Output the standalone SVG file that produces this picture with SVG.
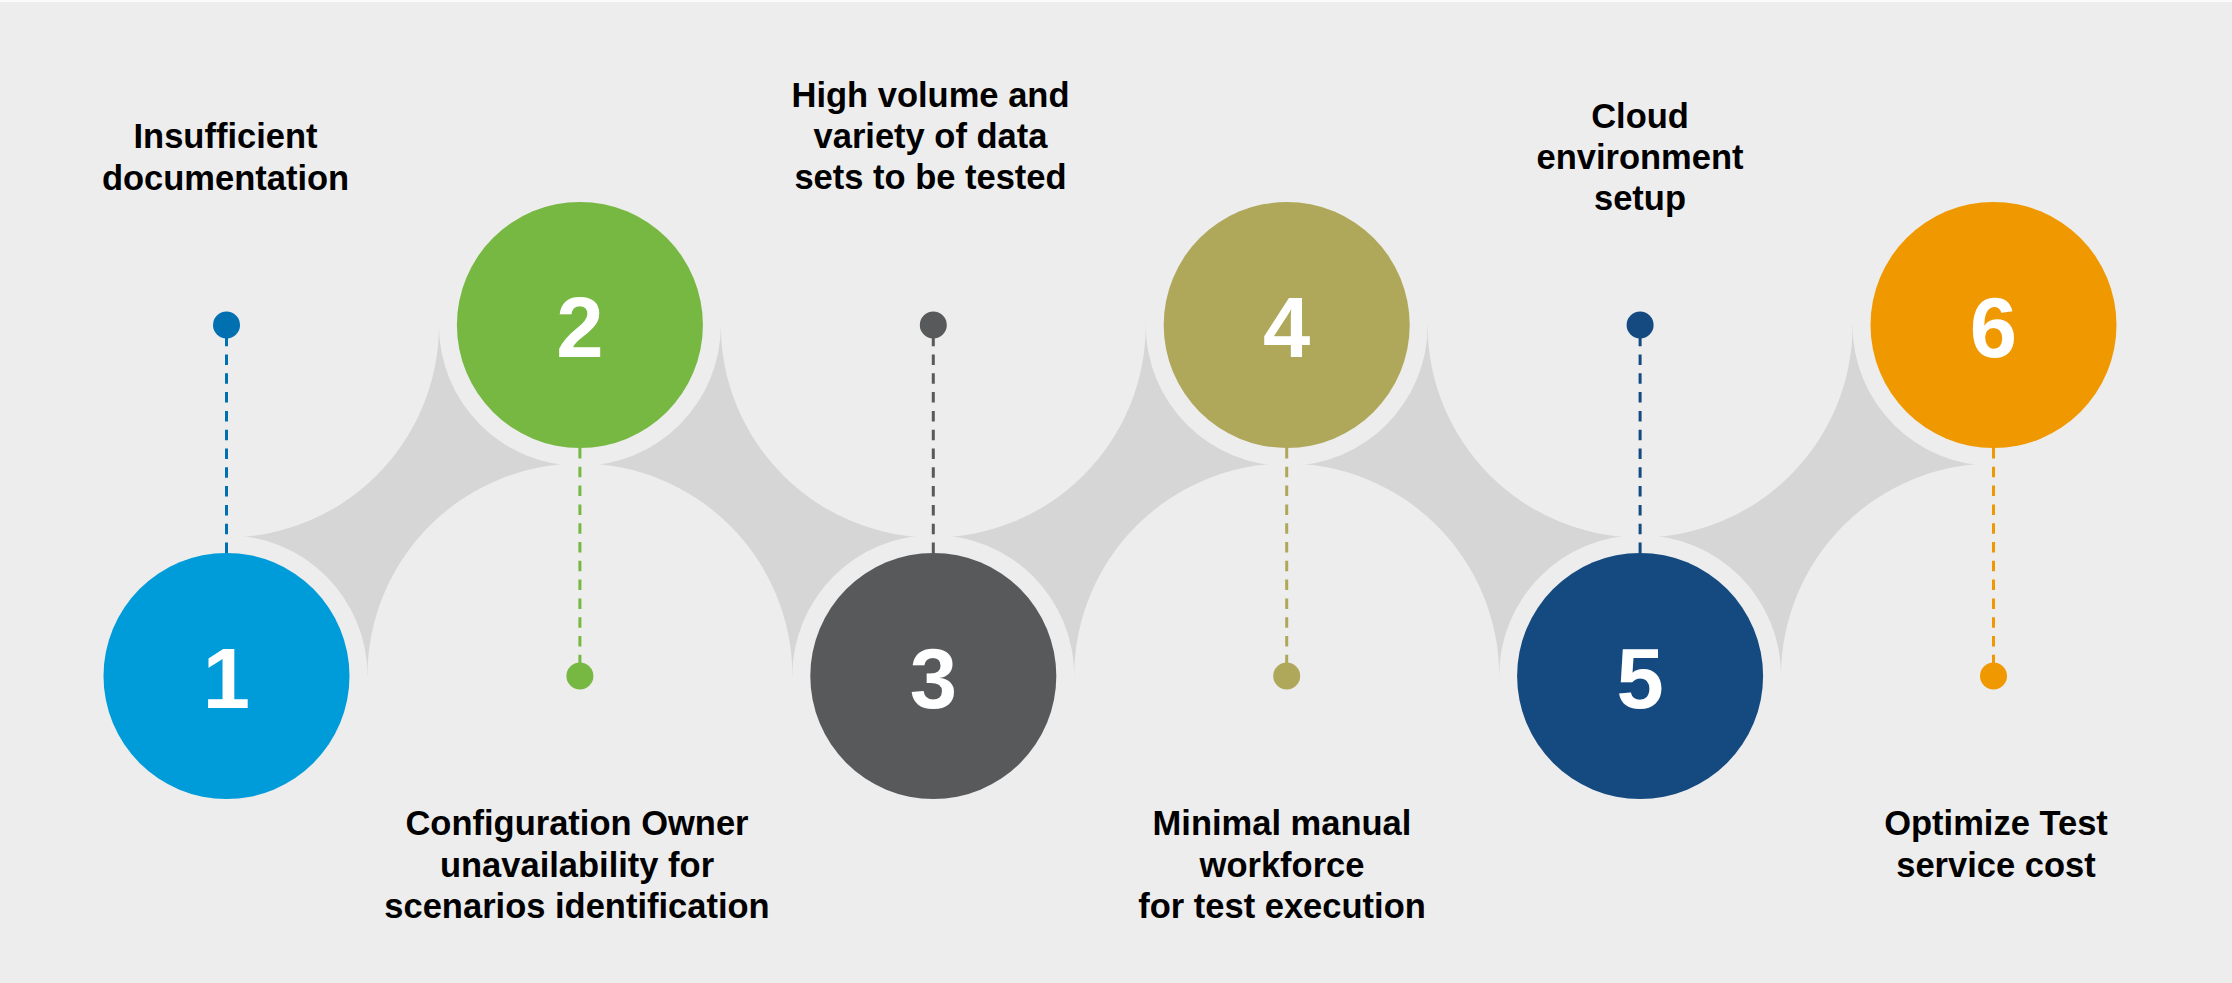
<svg xmlns="http://www.w3.org/2000/svg" width="2232" height="983" viewBox="0 0 2232 983">
  <style>
    .bg { fill: #EDEDED; }
    .band { fill: #D6D6D6; }
    .num { font-family: "Liberation Sans", Arial, sans-serif; font-weight: bold; font-size: 85px; fill: #FFFFFF; text-anchor: middle; }
    .lbl { font-family: "Liberation Sans", Arial, sans-serif; font-weight: bold; font-size: 34.5px; fill: #000000; text-anchor: middle; }
    .dash { stroke-width: 3; stroke-dasharray: 10.5 8.3; fill: none; }
  </style>
  <rect x="0" y="0" width="2232" height="983" class="bg"/>
  <rect x="0" y="0" width="2232" height="2" fill="#FAFAFA"/>

  <g id="band">
    <rect x="226.5" y="325" width="1767" height="351" class="band"/>
    <circle cx="226.5" cy="325" r="212.5" class="bg"/>
    <circle cx="579.9" cy="676" r="212.5" class="bg"/>
    <circle cx="933.3" cy="325" r="212.5" class="bg"/>
    <circle cx="1286.7" cy="676" r="212.5" class="bg"/>
    <circle cx="1640.1" cy="325" r="212.5" class="bg"/>
    <circle cx="1993.5" cy="676" r="212.5" class="bg"/>
    <circle cx="226.5" cy="676" r="141" class="bg"/>
    <circle cx="579.9" cy="325" r="141" class="bg"/>
    <circle cx="933.3" cy="676" r="141" class="bg"/>
    <circle cx="1286.7" cy="325" r="141" class="bg"/>
    <circle cx="1640.1" cy="676" r="141" class="bg"/>
    <circle cx="1993.5" cy="325" r="141" class="bg"/>
  </g>

  <g id="connectors">
    <line x1="226.5" y1="553" x2="226.5" y2="325" class="dash" stroke="#0070B0"/>
    <line x1="579.9" y1="448" x2="579.9" y2="676" class="dash" stroke="#77B843"/>
    <line x1="933.3" y1="553" x2="933.3" y2="325" class="dash" stroke="#58595B"/>
    <line x1="1286.7" y1="448" x2="1286.7" y2="676" class="dash" stroke="#AFA85B"/>
    <line x1="1640.1" y1="553" x2="1640.1" y2="325" class="dash" stroke="#154A80"/>
    <line x1="1993.5" y1="448" x2="1993.5" y2="676" class="dash" stroke="#F09800"/>
  </g>

  <g id="node1">
    <circle cx="226.5" cy="676" r="123" fill="#009CD9"/>
    <text x="226.5" y="708" class="num">1</text>
    <circle cx="226.5" cy="325" r="13.5" fill="#0070B0"/>
    <text class="lbl"><tspan x="225.5" y="148">Insufficient</tspan><tspan x="225.5" y="190">documentation</tspan></text>
  </g>

  <g id="node2">
    <circle cx="579.9" cy="325" r="123" fill="#77B843"/>
    <text x="579.9" y="357" class="num">2</text>
    <circle cx="579.9" cy="676" r="13.5" fill="#77B843"/>
    <text class="lbl"><tspan x="577" y="835">Configuration Owner</tspan><tspan x="577" y="877">unavailability for</tspan><tspan x="577" y="918">scenarios identification</tspan></text>
  </g>

  <g id="node3">
    <circle cx="933.3" cy="676" r="123" fill="#58595B"/>
    <text x="933.3" y="708" class="num">3</text>
    <circle cx="933.3" cy="325" r="13.5" fill="#58595B"/>
    <text class="lbl"><tspan x="930.5" y="107">High volume and</tspan><tspan x="930.5" y="148">variety of data</tspan><tspan x="930.5" y="189">sets to be tested</tspan></text>
  </g>

  <g id="node4">
    <circle cx="1286.7" cy="325" r="123" fill="#AFA85B"/>
    <text x="1286.7" y="357" class="num">4</text>
    <circle cx="1286.7" cy="676" r="13.5" fill="#AFA85B"/>
    <text class="lbl"><tspan x="1282" y="835">Minimal manual</tspan><tspan x="1282" y="877">workforce</tspan><tspan x="1282" y="918">for test execution</tspan></text>
  </g>

  <g id="node5">
    <circle cx="1640.1" cy="676" r="123" fill="#154A80"/>
    <text x="1640.1" y="708" class="num">5</text>
    <circle cx="1640.1" cy="325" r="13.5" fill="#154A80"/>
    <text class="lbl"><tspan x="1640" y="128">Cloud</tspan><tspan x="1640" y="169">environment</tspan><tspan x="1640" y="210">setup</tspan></text>
  </g>

  <g id="node6">
    <circle cx="1993.5" cy="325" r="123" fill="#F09800"/>
    <text x="1993.5" y="357" class="num">6</text>
    <circle cx="1993.5" cy="676" r="13.5" fill="#F09800"/>
    <text class="lbl"><tspan x="1996" y="835">Optimize Test</tspan><tspan x="1996" y="877">service cost</tspan></text>
  </g>
</svg>
